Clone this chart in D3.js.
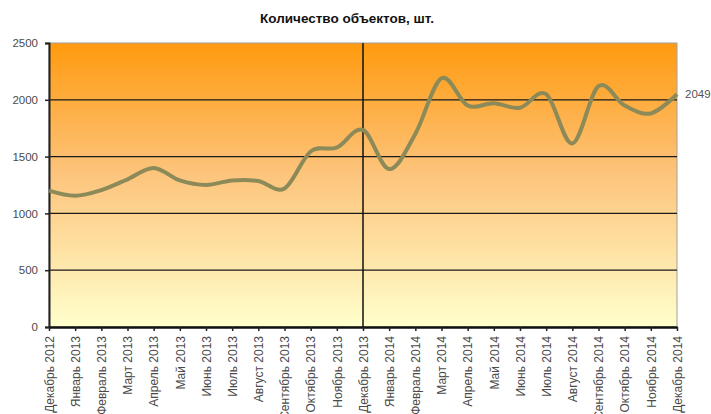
<!DOCTYPE html>
<html>
<head>
<meta charset="utf-8">
<script src="https://cdn.jsdelivr.net/npm/d3@7"></script>
<style>
	body { margin: 0; background: #fff; }
	svg { display: block; font-family: "Liberation Sans", Arial, sans-serif; }
</style>
</head>
<body>
<svg id="chart" width="711" height="414"></svg>
<script>
'use strict';

var months = ["Декабрь 2012", "Январь 2013", "Февраль 2013", "Март 2013", "Апрель 2013",
	"Май 2013", "Июнь 2013", "Июль 2013", "Август 2013", "Сентябрь 2013", "Октябрь 2013",
	"Ноябрь 2013", "Декабрь 2013", "Январь 2014", "Февраль 2014", "Март 2014", "Апрель 2014",
	"Май 2014", "Июнь 2014", "Июль 2014", "Август 2014", "Сентябрь 2014", "Октябрь 2014",
	"Ноябрь 2014", "Декабрь 2014"];
var counts = [1200, 1155, 1205, 1300, 1400, 1290, 1250, 1290, 1285, 1220, 1545, 1580,
	1735, 1390, 1700, 2190, 1950, 1970, 1930, 2050, 1615, 2120, 1950, 1880, 2049];
var yTicks = [0, 500, 1000, 1500, 2000, 2500];
var markMonth = "Декабрь 2013";
var title = "Количество объектов, шт.";

var svg = d3.select("#chart");
var plotLeft = 49, plotRight = 677, plotTop = 43, plotBottom = 327;

var x = d3.scalePoint().domain(months).range([plotLeft, plotRight]);
var y = d3.scaleLinear().domain([0, 2500]).range([plotBottom, plotTop]);

// background gradient
var grad = svg.append("defs").append("linearGradient")
	.attr("id", "bg").attr("x1", 0).attr("y1", 0).attr("x2", 0).attr("y2", 1);
grad.append("stop").attr("offset", "0%").attr("stop-color", "#ff9a0e");
grad.append("stop").attr("offset", "45%").attr("stop-color", "#fdc37a");
grad.append("stop").attr("offset", "100%").attr("stop-color", "#ffffcc");

svg.append("rect")
	.attr("x", plotLeft).attr("y", plotTop)
	.attr("width", plotRight - plotLeft).attr("height", plotBottom - plotTop)
	.attr("fill", "url(#bg)")
	.attr("stroke", "#a0a0a0").attr("stroke-width", 1);

// gridlines
svg.append("g").selectAll("line")
	.data(yTicks.filter(function (d) { return d > 0 && d < 2500; }))
	.enter().append("line")
	.attr("x1", plotLeft).attr("x2", plotRight)
	.attr("y1", function (d) { return y(d); })
	.attr("y2", function (d) { return y(d); })
	.attr("stroke", "#1a1a1a").attr("stroke-width", 1.2);

// marker line at Dec 2013
svg.append("line")
	.attr("x1", x(markMonth)).attr("x2", x(markMonth))
	.attr("y1", plotTop).attr("y2", plotBottom)
	.attr("stroke", "#111").attr("stroke-width", 1.5);

// y axis
var yAxis = svg.append("g")
	.attr("transform", "translate(" + plotLeft + ",0)")
	.call(d3.axisLeft(y).tickValues(yTicks).tickSize(4).tickPadding(7).tickFormat(d3.format("d")));
yAxis.select(".domain").attr("stroke", "#222").attr("stroke-width", 2);
yAxis.selectAll(".tick line").attr("stroke", "#222").attr("stroke-width", 1.5);
yAxis.selectAll("text").attr("fill", "#4a4a4a").style("font-size", "11.5px");

// x axis
var xAxis = svg.append("g")
	.attr("transform", "translate(0," + plotBottom + ")")
	.call(d3.axisBottom(x).tickSize(4).tickSizeOuter(0));
xAxis.select(".domain").attr("stroke", "#111").attr("stroke-width", 2.5);
xAxis.selectAll(".tick line").attr("stroke", "#222").attr("stroke-width", 1.5);
xAxis.selectAll("text")
	.attr("fill", "#4a4a4a").style("font-size", "12px")
	.attr("text-anchor", "end")
	.attr("transform", "rotate(-90)")
	.attr("x", -9).attr("y", 0).attr("dy", "0.35em");

// data line
var line = d3.line()
	.x(function (d, i) { return x(months[i]); })
	.y(function (d) { return y(d); })
	.curve(d3.curveCatmullRom.alpha(0));

svg.append("path")
	.datum(counts)
	.attr("d", line)
	.attr("fill", "none")
	.attr("stroke", "#8b8a58")
	.attr("stroke-width", 4)
	.attr("stroke-linejoin", "round");

// last value label
var last = counts[counts.length - 1];
svg.append("text")
	.attr("x", plotRight + 8).attr("y", y(last))
	.attr("dy", "0.35em")
	.attr("fill", "#555").style("font-size", "11.5px")
	.text(last);

// title
svg.append("text")
	.attr("x", 347).attr("y", 23)
	.attr("text-anchor", "middle")
	.style("font-size", "13.5px").style("font-weight", "bold")
	.attr("fill", "#111")
	.text(title);
</script>
</body>
</html>
